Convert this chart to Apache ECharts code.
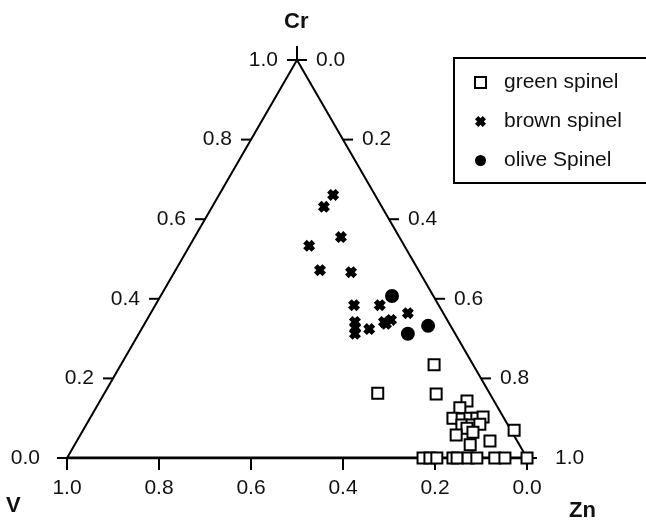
<!DOCTYPE html>
<html>
<head>
<meta charset="utf-8">
<script src="https://cdn.jsdelivr.net/npm/echarts@6/dist/echarts.min.js"></script>
<style>
html, body { margin: 0; padding: 0; background: #fff; }
#chart { width: 646px; height: 521px; }
</style>
</head>
<body>
<div id="chart"></div>
<script>
// ternary points as [Cr, Zn] fractions, V = 1 - Cr - Zn
const tickValues = [0, 0.2, 0.4, 0.6, 0.8, 1.0];

const greenSpinel = [
    [0.234, 0.681], [0.163, 0.594], [0.161, 0.722], [0.143, 0.798], [0.126, 0.791],
    [0.100, 0.789], [0.098, 0.810], [0.100, 0.826], [0.100, 0.841], [0.103, 0.853],
    [0.083, 0.817], [0.083, 0.839], [0.085, 0.855], [0.075, 0.832], [0.058, 0.817],
    [0.065, 0.850], [0.033, 0.860], [0.043, 0.898], [0.070, 0.937],
    [0, 0.774], [0, 0.789], [0, 0.804], [0, 0.839], [0, 0.848], [0, 0.872],
    [0, 0.891], [0, 0.930], [0, 0.952], [0, 1.0]
];

const brownSpinel = [
    [0.661, 0.248], [0.631, 0.243], [0.555, 0.318], [0.533, 0.260], [0.472, 0.314],
    [0.467, 0.384], [0.384, 0.432], [0.384, 0.488], [0.342, 0.455], [0.327, 0.463],
    [0.312, 0.470], [0.324, 0.495], [0.342, 0.518], [0.347, 0.531], [0.337, 0.525],
    [0.364, 0.559]
];

const oliveSpinel = [
    [0.407, 0.503], [0.332, 0.619], [0.312, 0.585]
];

const FONT = '"Liberation Sans", Arial, sans-serif';
// chunky x mark
const crossPath = 'path://M0,3 L3,0 L5,2 L7,0 L10,3 L8,5 L10,7 L7,10 L5,8 L3,10 L0,7 L2,5 Z';

// ternary -> x,y in the hidden cartesian grid (y = Cr)
function toXY(p) {
    return [p[1] + p[0] / 2, p[0]];
}

const chart = echarts.init(document.getElementById('chart'));

chart.setOption({
    animation: false,
    backgroundColor: '#fff',
    grid: { left: 67, top: 60, width: 460, height: 398 },
    xAxis: { type: 'value', min: 0, max: 1, show: false },
    yAxis: { type: 'value', min: 0, max: 1, show: false },
    legend: {
        data: ['green spinel', 'brown spinel', 'olive Spinel'],
        orient: 'vertical',
        left: 454,
        top: 58,
        padding: [14, 30, 12, 20],
        itemGap: 18,
        itemWidth: 11,
        itemHeight: 11,
        borderColor: '#000',
        borderWidth: 2,
        borderRadius: 0,
        textStyle: { fontFamily: FONT, fontSize: 21, color: '#111', lineHeight: 20, padding: [0, 0, 0, 13] }
    },
    graphic: [
        { type: 'text', left: 284, top: 11, style: { text: 'Cr', font: 'bold 22px ' + FONT, fill: '#111' } },
        { type: 'text', left: 6, top: 495, style: { text: 'V', font: 'bold 22px ' + FONT, fill: '#111' } },
        { type: 'text', left: 569, top: 500, style: { text: 'Zn', font: 'bold 22px ' + FONT, fill: '#111' } }
    ],
    series: [
        {
            // triangle sides
            type: 'line',
            data: [[0, 0], [0.5, 1], [1, 0]],
            symbol: 'none',
            silent: true,
            lineStyle: { color: '#000', width: 2 },
            z: 1
        },
        {
            // base line, drawn heavier
            type: 'line',
            data: [[0, 0], [1, 0]],
            symbol: 'none',
            silent: true,
            lineStyle: { color: '#000', width: 3 },
            z: 1
        },
        {
            // ticks and tick labels on all three sides
            type: 'custom',
            silent: true,
            data: tickValues.map(function (t) { return [t, t]; }),
            renderItem: function (params, api) {
                const t = api.value(0);
                const label = t.toFixed(1);
                const L = api.coord([t / 2, t]);              // Cr axis
                const R = api.coord([(1 + t) / 2, 1 - t]);    // Zn axis
                const B = api.coord([1 - t, 0]);              // V axis
                const ls = { stroke: '#000', lineWidth: 2 };
                const ts = { font: '21px ' + FONT, fill: '#111' };
                // the labels at the base corners sit a bit further out
                const lGap = t === 0 ? 27 : 19;
                const rGap = t === 1 ? 28 : 19;
                const children = [
                    { type: 'line', shape: { x1: L[0] - 10, y1: L[1], x2: L[0], y2: L[1] }, style: ls },
                    { type: 'text', x: L[0] - lGap, y: L[1], style: Object.assign({ text: label, align: 'right', verticalAlign: 'middle' }, ts) },
                    { type: 'line', shape: { x1: R[0], y1: R[1], x2: R[0] + 10, y2: R[1] }, style: ls },
                    { type: 'text', x: R[0] + rGap, y: R[1], style: Object.assign({ text: label, align: 'left', verticalAlign: 'middle' }, ts) },
                    { type: 'line', shape: { x1: B[0], y1: B[1], x2: B[0], y2: B[1] + 12 }, style: ls },
                    { type: 'text', x: B[0], y: B[1] + 20, style: Object.assign({ text: label, align: 'center', verticalAlign: 'top' }, ts) }
                ];
                if (t === 1) {
                    children.push({ type: 'line', shape: { x1: L[0], y1: L[1], x2: L[0], y2: L[1] - 14 }, style: ls });
                }
                return { type: 'group', children: children };
            },
            z: 2
        },
        {
            name: 'green spinel',
            type: 'scatter',
            data: greenSpinel.map(toXY),
            symbol: 'rect',
            symbolSize: 11,
            itemStyle: { color: '#fff', borderColor: '#000', borderWidth: 2, opacity: 1 },
            z: 3
        },
        {
            name: 'brown spinel',
            type: 'scatter',
            data: brownSpinel.map(toXY),
            symbol: crossPath,
            symbolSize: 12,
            itemStyle: { color: '#000', opacity: 1 },
            z: 4
        },
        {
            name: 'olive Spinel',
            type: 'scatter',
            data: oliveSpinel.map(toXY),
            symbol: 'circle',
            symbolSize: 14,
            itemStyle: { color: '#000', opacity: 1 },
            z: 5
        }
    ]
});
</script>
</body>
</html>
